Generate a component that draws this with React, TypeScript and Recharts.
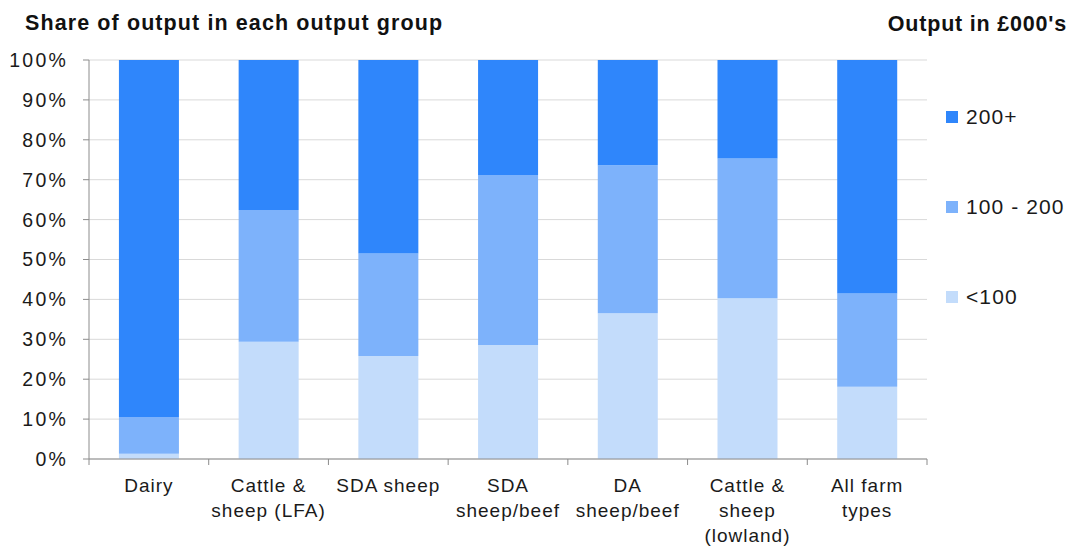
import { Bar, BarChart, CartesianGrid, Legend, XAxis, YAxis } from "recharts";

const categories = [
  "Dairy",
  "Cattle &\nsheep (LFA)",
  "SDA sheep",
  "SDA\nsheep/beef",
  "DA\nsheep/beef",
  "Cattle &\nsheep\n(lowland)",
  "All farm\ntypes",
];
const under100 = [1.3, 29.4, 25.8, 28.6, 36.5, 40.3, 18.1];
const from100to200 = [9.2, 33.0, 25.7, 42.6, 37.1, 35.0, 23.4];
const over200 = [89.5, 37.6, 48.5, 28.8, 26.4, 24.7, 58.5];
const yTicks = [0, 10, 20, 30, 40, 50, 60, 70, 80, 90, 100];

const series = [
  { key: "over200", name: "200+", color: "#2f86fb" },
  { key: "mid", name: "100 - 200", color: "#7db2fb" },
  { key: "under100", name: "<100", color: "#c3dcfb" },
];

const data = categories.map((name, i) => ({
  name,
  under100: under100[i],
  mid: from100to200[i],
  over200: over200[i],
}));

const font = "'Liberation Sans', Arial, sans-serif";
const axisGray = "#8c8c8c";
const textColor = "#1a1a1a";

function CategoryTick(props: any) {
  const { x, y, payload, index } = props;
  const half = payload.offset || 0;
  const lines = String(payload.value).split("\n");
  return (
    <g>
      <line x1={x - half} x2={x - half} y1={y} y2={y + 6} stroke={axisGray} />
      {index === categories.length - 1 && (
        <line x1={x + half} x2={x + half} y1={y} y2={y + 6} stroke={axisGray} />
      )}
      {lines.map((line, i) => (
        <text
          key={i}
          x={x}
          y={y + 33 + i * 25}
          textAnchor="middle"
          fontSize={19}
          letterSpacing={1}
          fill={textColor}
          fontFamily={font}
        >
          {line}
        </text>
      ))}
    </g>
  );
}

function LegendList() {
  return (
    <div style={{ fontFamily: font, fontSize: 21, letterSpacing: 1.1, color: textColor }}>
      {series.map((s, i) => (
        <div
          key={s.key}
          style={{ display: "flex", alignItems: "center", height: 24, marginBottom: i < 2 ? 66 : 0 }}
        >
          <span style={{ width: 12, height: 12, background: s.color, marginRight: 8, display: "inline-block" }} />
          {s.name}
        </div>
      ))}
    </div>
  );
}

export default function App() {
  return (
    <div style={{ position: "absolute", left: 0, top: 0, width: 1073, height: 547, background: "#fff" }}>
      <div
        style={{
          position: "absolute",
          left: 25,
          top: 13,
          lineHeight: 1,
          fontFamily: font,
          fontWeight: "bold",
          fontSize: 21.5,
          letterSpacing: 1.1,
          color: "#111",
          whiteSpace: "nowrap",
        }}
      >
        Share of output in each output group
      </div>
      <div
        style={{
          position: "absolute",
          right: 6,
          top: 14,
          lineHeight: 1,
          fontFamily: font,
          fontWeight: "bold",
          fontSize: 21.5,
          letterSpacing: 0.8,
          color: "#111",
          whiteSpace: "nowrap",
        }}
      >
        Output in £000's
      </div>
      <BarChart
        width={1073}
        height={547}
        data={data}
        margin={{ top: 60, right: 146, left: 0, bottom: 0 }}
        barCategoryGap="25%"
      >
        <CartesianGrid horizontal vertical={false} stroke="#d9d9d9" />
        <XAxis
          dataKey="name"
          interval={0}
          height={88}
          tickSize={0}
          tickMargin={0}
          tickLine={false}
          axisLine={{ stroke: axisGray }}
          tick={<CategoryTick />}
        />
        <XAxis xAxisId="top" orientation="top" dataKey="name" height={0} tick={false} tickLine={false} axisLine={{ stroke: axisGray }} />
        <YAxis
          domain={[0, 100]}
          ticks={yTicks}
          interval={0}
          width={89}
          tickSize={6}
          tickMargin={15}
          tickFormatter={(v) => `${v}%`}
          tick={{ fontSize: 19.5, fill: textColor, fontFamily: font, letterSpacing: 2.2 }}
          tickLine={{ stroke: axisGray }}
          axisLine={{ stroke: axisGray }}
        />
        <YAxis yAxisId="right" orientation="right" width={0} tick={false} tickLine={false} axisLine={{ stroke: axisGray }} />
        <Legend
          layout="horizontal"
          verticalAlign="middle"
          align="center"
          content={<LegendList />}
          wrapperStyle={{ left: 946, top: 105, width: 127 }}
        />
        {[...series].reverse().map((s) => (
          <Bar key={s.key} dataKey={s.key} name={s.name} stackId="a" fill={s.color} isAnimationActive={false} />
        ))}
      </BarChart>
    </div>
  );
}
